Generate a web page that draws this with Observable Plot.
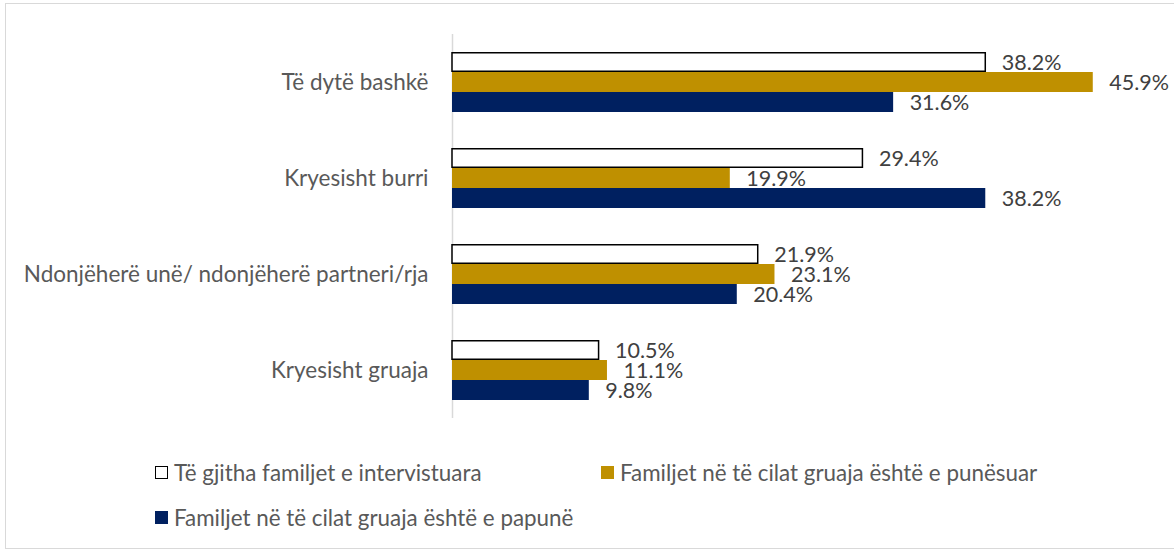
<!DOCTYPE html>
<html><head><meta charset="utf-8">
<script src="https://cdn.jsdelivr.net/npm/d3@7"></script>
<script src="https://cdn.jsdelivr.net/npm/@observablehq/plot@0.6"></script>
<style>
body{margin:0;background:#fff;font-family:Lato, sans-serif;}
#wrap{position:relative;width:1174px;height:550px;overflow:hidden;background:#fff;}
#frame{position:absolute;left:5px;top:3px;width:1190px;height:546px;border:1.5px solid #d9d9d9;box-sizing:border-box;}
#chart{position:absolute;left:0;top:0;}
.leg{position:absolute;height:26px;font-size:22.4px;color:#595959;display:flex;align-items:center;white-space:nowrap;}
.sw{width:13px;height:13px;margin-right:6px;box-sizing:border-box;flex:none;}
</style></head><body>
<div id="wrap"><div id="frame"></div><div id="chart"></div><div id="legend"></div></div>
<script>
const categories = ["Të dytë bashkë", "Kryesisht burri", "Ndonjëherë unë/ ndonjëherë partneri/rja", "Kryesisht gruaja"];
const series = ["Të gjitha familjet e intervistuara", "Familjet në të cilat gruaja është e punësuar", "Familjet në të cilat gruaja është e papunë"];
const allFamilies = [38.2, 29.4, 21.9, 10.5];
const employedWomen = [45.9, 19.9, 23.1, 11.1];
const unemployedWomen = [31.6, 38.2, 20.4, 9.8];
const seriesColors = ["#ffffff", "#BF9000", "#002060"];

const seriesValues = [allFamilies, employedWomen, unemployedWomen];
const data = [];
categories.forEach((c, i) => {
  series.forEach((s, j) => {
    data.push({category: c, series: s, idx: j, value: seriesValues[j][i]});
  });
});

const chart = Plot.plot({
  width: 1174,
  height: 440,
  marginLeft: 452,
  marginRight: 24,
  marginTop: 33,
  marginBottom: 22,
  style: {fontFamily: "Lato, sans-serif", fontSize: "22.5px", color: "#595959", background: "transparent"},
  x: {domain: [0, 50], axis: null},
  y: {domain: series, axis: null, padding: 0},
  fy: {domain: categories, paddingInner: 0.375, paddingOuter: 0.1875, label: null, tickSize: 0, tickPadding: 24},
  color: {domain: series, range: seriesColors},
  marks: [
    Plot.ruleX([0], {stroke: "#d9d9d9", strokeWidth: 1.5, insetTop: -18, insetBottom: -18}),
    Plot.barX(data.filter(d => d.idx > 0), {fy: "category", y: "series", x: "value", fill: "series"}),
    Plot.barX(data.filter(d => d.idx === 0), {fy: "category", y: "series", x: "value", fill: "#ffffff", stroke: "#000000", strokeWidth: 1.5, insetTop: 0.75, insetBottom: 0.75}),
    Plot.text(data, {fy: "category", y: "series", x: "value", text: d => d.value.toFixed(1) + "%", dx: 16, dy: 1, textAnchor: "start", fill: "#404040", fontSize: 21.5})
  ]
});
document.getElementById("chart").appendChild(chart);

const legendPos = [[155, 459], [601, 459], [155, 504]];
const legend = document.getElementById("legend");
series.forEach((s, j) => {
  const item = document.createElement("div");
  item.className = "leg";
  item.style.left = legendPos[j][0] + "px";
  item.style.top = legendPos[j][1] + "px";
  const sw = document.createElement("span");
  sw.className = "sw";
  sw.style.background = seriesColors[j];
  if (j === 0) sw.style.border = "1.5px solid #000";
  item.appendChild(sw);
  const t = document.createElement("span");
  t.textContent = s;
  item.appendChild(t);
  legend.appendChild(item);
});
</script>
</body></html>
